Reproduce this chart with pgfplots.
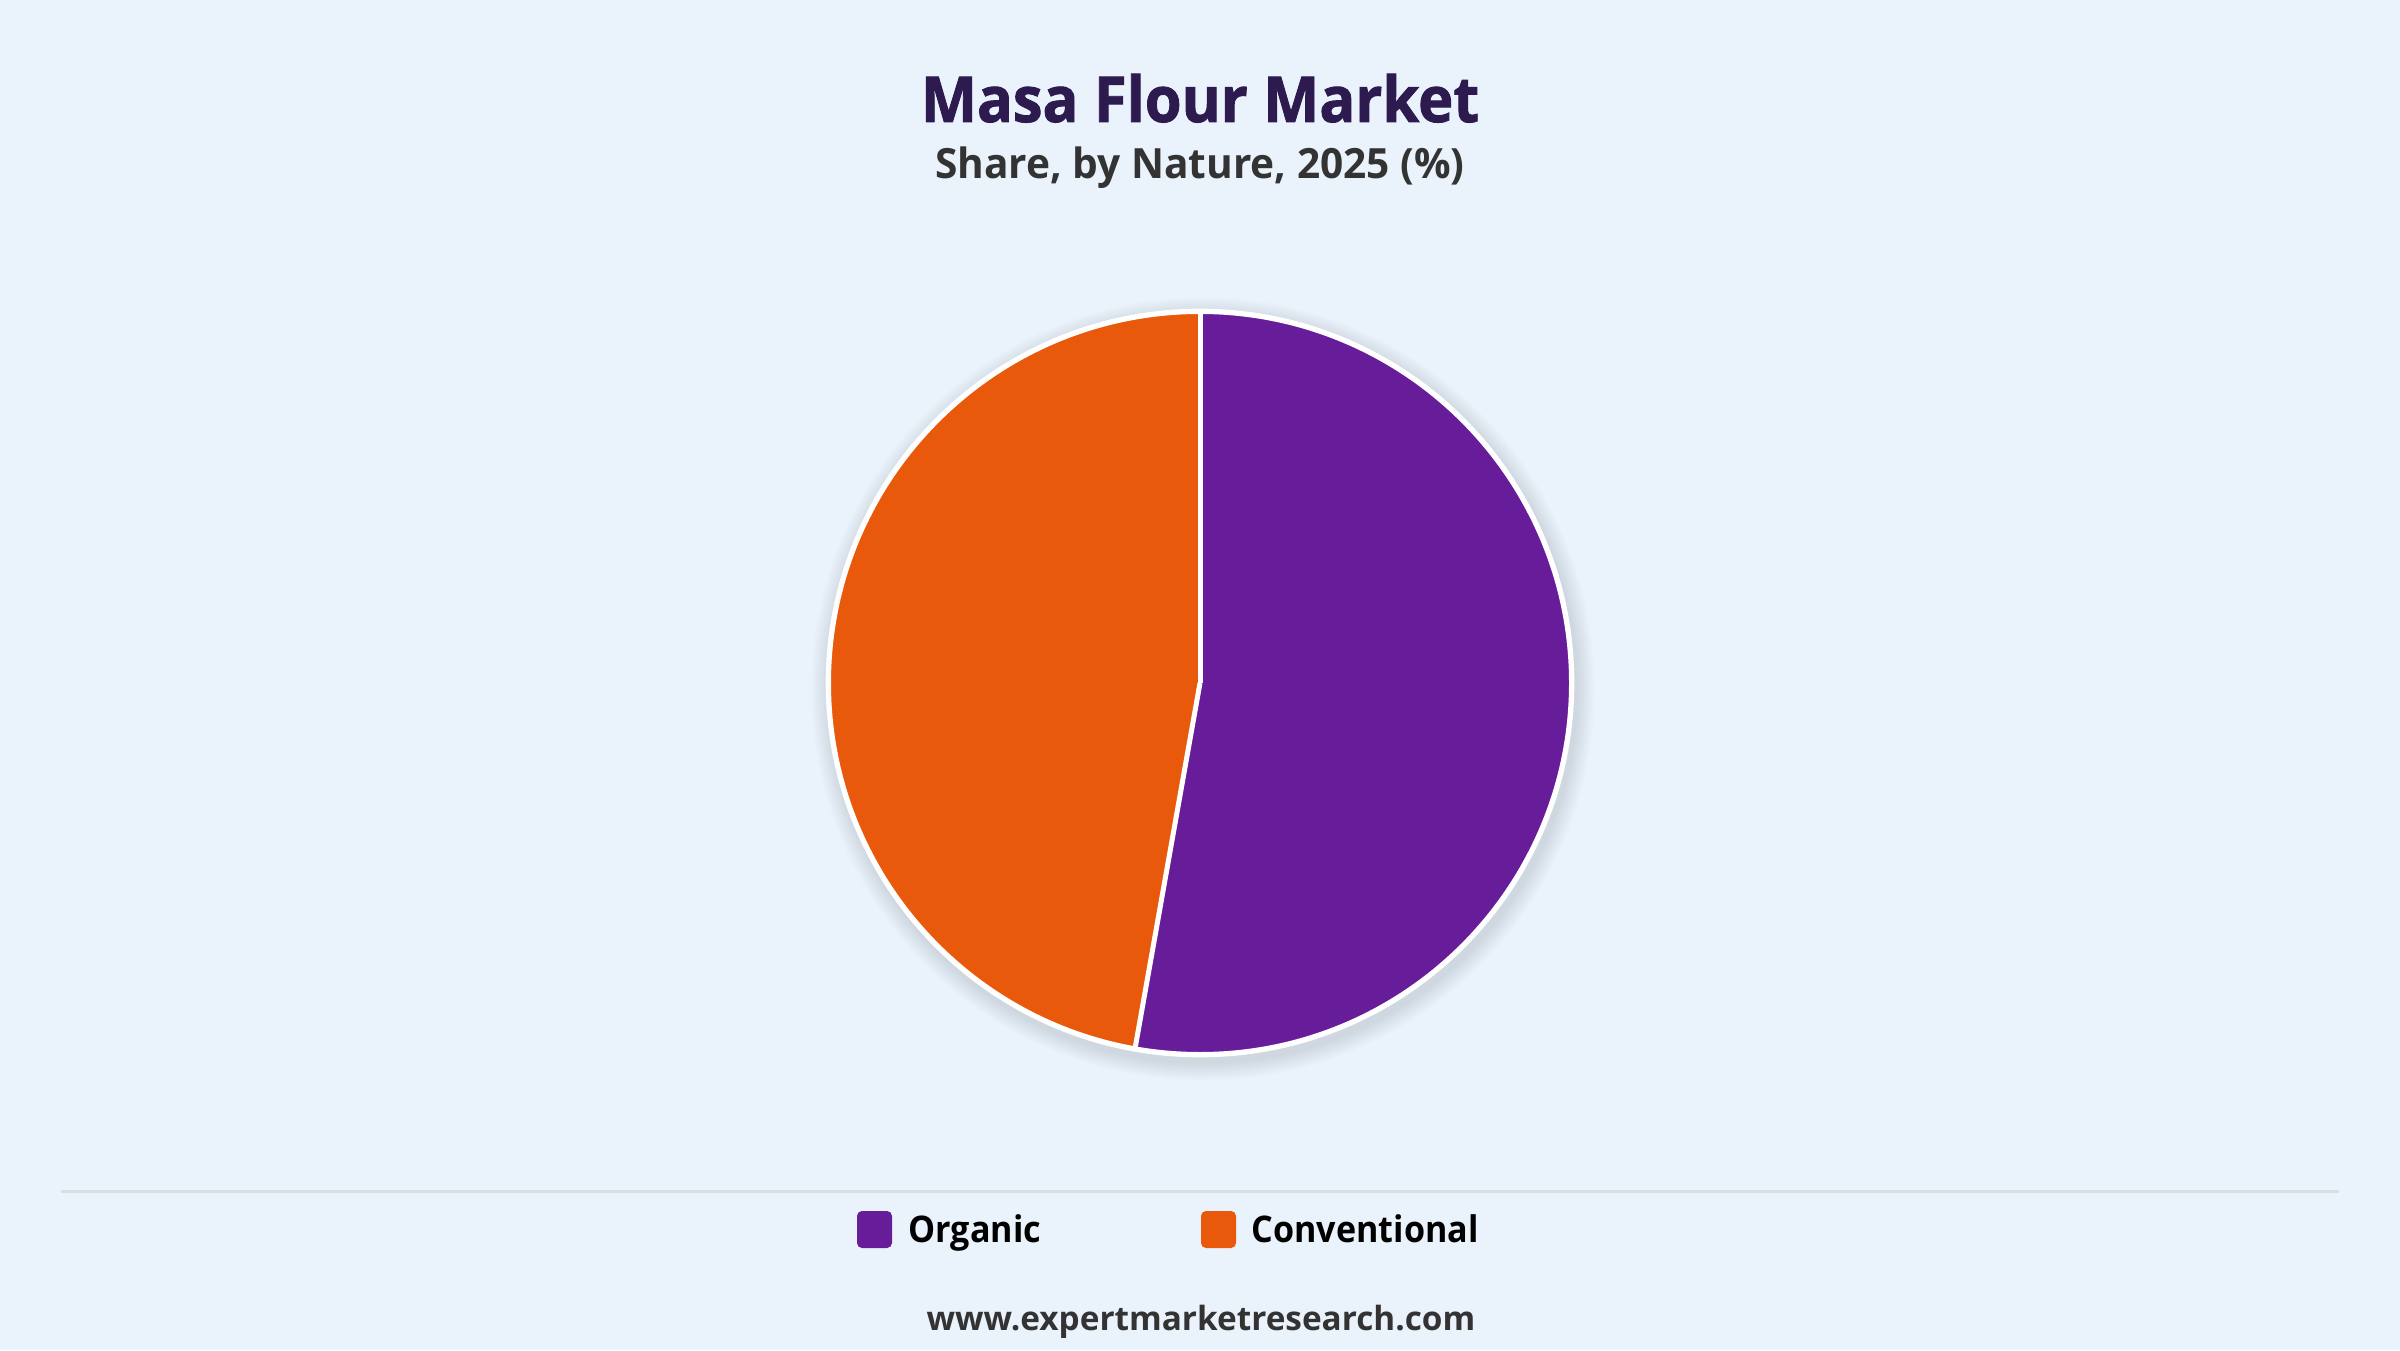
\documentclass[border=0pt]{standalone}
\usepackage{pgfplots}
\pgfplotsset{compat=1.18}
\usepackage{pgfplotstable}
\usepackage{fontspec}
\setmainfont{Open Sans}
\newfontfamily\heavy{Open Sans}[FakeStretch=0.94, BoldFeatures={FakeBold=1.4}]
\newfontfamily\subfont{Open Sans}[FakeStretch=0.975]
\newfontfamily\legfont{Open Sans}[FakeStretch=0.93]

\definecolor{bgcol}{HTML}{EAF2FB}
\definecolor{orgcol}{HTML}{671C99}
\definecolor{convcol}{HTML}{E8590C}
\definecolor{titlecol}{HTML}{2D1A4F}
\definecolor{subcol}{HTML}{333333}
\definecolor{sepcol}{HTML}{DADDE2}

% share by nature, 2025 (%)
\pgfplotstableread{
label value
Organic 52.8
Conventional 47.2
}\sharetable

\begin{document}
\begin{tikzpicture}
\pgfplotstablegetelem{0}{value}\of\sharetable
\pgfmathsetmacro\angA{90-3.6*\pgfplotsretval}
\pgfplotstablegetelem{1}{value}\of\sharetable
\pgfmathsetmacro\angB{\angA-3.6*\pgfplotsretval}
\begin{axis}[
    hide axis,
    scale only axis,
    width=720pt, height=405pt,
    xmin=0, xmax=2400, ymin=0, ymax=1350,
    clip=false,
]
    \fill[bgcol] (axis cs:0,0) rectangle (axis cs:2400,1350);

    % soft shadow
    \pgfplotsinvokeforeach{1,...,9}{
        \fill[black, opacity=0.011] (axis cs:1203,661) circle[radius={112pt+#1*0.6pt}];
    }

    % slices
    \fill[orgcol] (axis cs:1200,667) -- ++(90:111.5pt)
        arc[start angle=90, end angle=\angA, radius=111.5pt] -- cycle;
    \fill[convcol] (axis cs:1200,667) -- ++(\angA:111.5pt)
        arc[start angle=\angA, end angle=\angB, radius=111.5pt] -- cycle;
    \draw[white, line width=1.6pt] (axis cs:1200,667) circle[radius=111.5pt];
    \draw[white, line width=1.5pt] (axis cs:1200,667) -- ++(90:111.5pt);
    \draw[white, line width=1.5pt] (axis cs:1200,667) -- ++(\angA:111.5pt);

    % titles
    \node[anchor=base, text=titlecol, font=\heavy\bfseries\fontsize{19}{22}\selectfont]
        at (axis cs:1200,1228) {Masa Flour Market};
    \node[anchor=base, text=subcol, font=\subfont\bfseries\fontsize{12.5}{15}\selectfont]
        at (axis cs:1200,1171) {Share, by Nature, 2025 (\%)};

    % separator
    \draw[sepcol, line width=0.9pt] (axis cs:61,159) -- (axis cs:2339,159);

    % legend
    \fill[orgcol, rounded corners=1.5pt] (axis cs:857,102) rectangle (axis cs:892,139);
    \node[anchor=base west, text=black, font=\legfont\bfseries\fontsize{11}{13}\selectfont, inner sep=0pt]
        at (axis cs:908,108) {Organic};
    \fill[convcol, rounded corners=1.5pt] (axis cs:1201,102) rectangle (axis cs:1236,139);
    \node[anchor=base west, text=black, font=\legfont\bfseries\fontsize{11}{13}\selectfont, inner sep=0pt]
        at (axis cs:1251,108) {Conventional};

    % source
    \node[anchor=base, text=subcol, font=\bfseries\fontsize{10}{12}\selectfont]
        at (axis cs:1201,20) {www.expertmarketresearch.com};
\end{axis}
\end{tikzpicture}
\end{document}
